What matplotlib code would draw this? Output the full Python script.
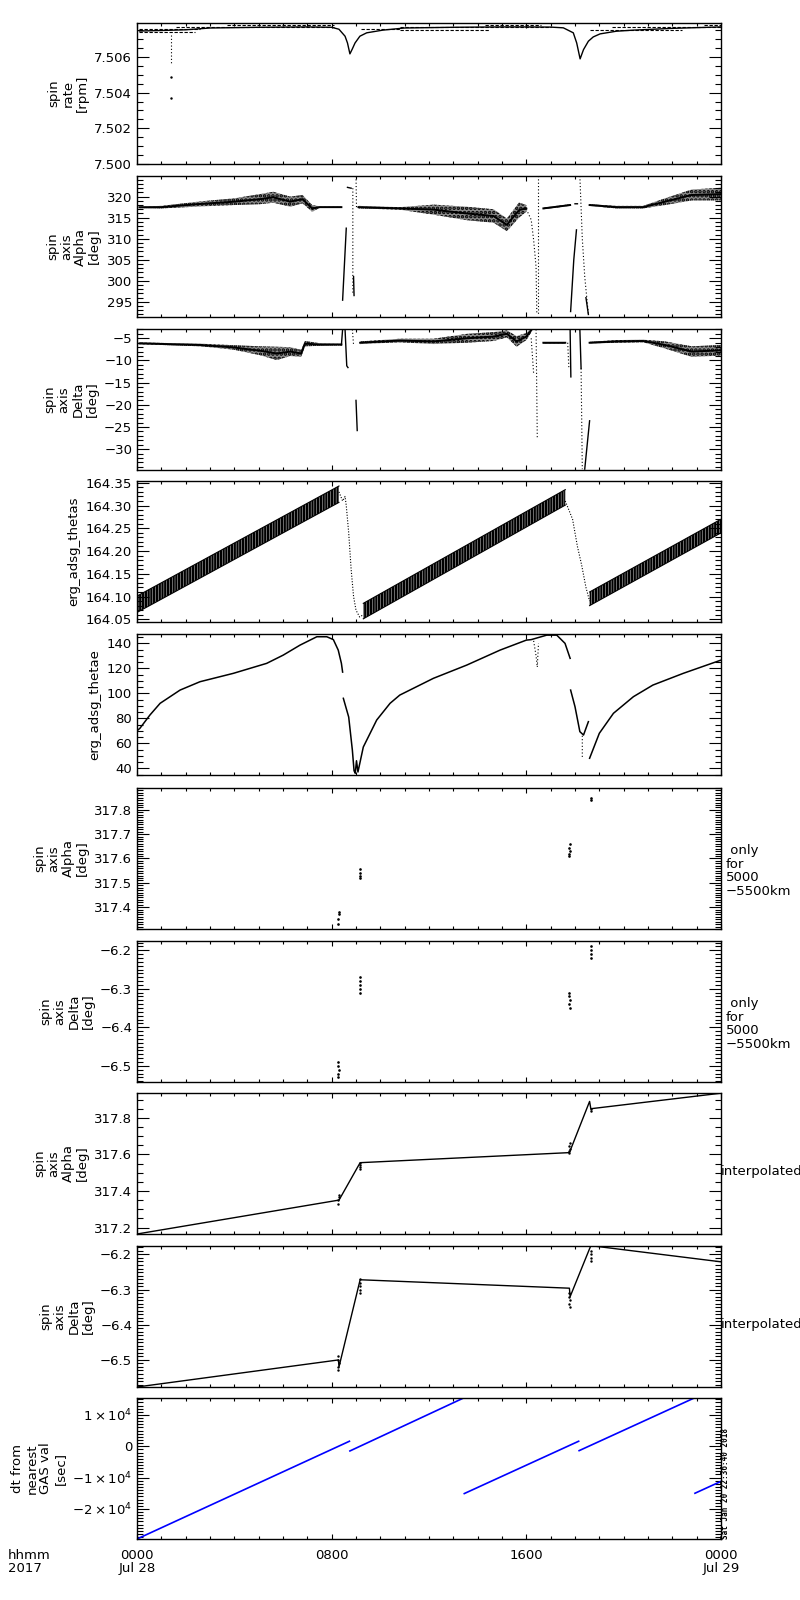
import numpy as np
import matplotlib
matplotlib.use('Agg')
import matplotlib.pyplot as plt
from matplotlib.ticker import MultipleLocator, FixedLocator, FixedFormatter, FuncFormatter

plt.rcParams['font.family'] = ['DejaVu Sans']
plt.rcParams['hatch.linewidth'] = 1.7
nan = np.nan

# time axis is in hours since 2017-07-28 00:00

# --- spin rate [rpm]
rate_t = [0.1, 1.0, 2.0, 3.0, 5.0, 7.0, 8.0, 8.3, 8.55, 8.65, 8.75, 8.85, 8.96, 9.16, 9.44, 10.1, 11, 13, 15, 16, 17,
          17.52, 17.93, 18.07, 18.21, 18.35, 18.55, 18.75, 19.03, 19.7, 20.4, 22, 24]
rate_v = [7.50745, 7.50748, 7.50752, 7.50762, 7.50766, 7.50768, 7.50766, 7.50755, 7.50716, 7.50678, 7.50617, 7.50645,
          7.50678, 7.50716, 7.50735, 7.5075, 7.50762, 7.50766, 7.50768, 7.50768, 7.50767,
          7.50763, 7.50735, 7.50678, 7.50589, 7.50641, 7.50688, 7.50712, 7.50729, 7.50744, 7.5075, 7.5076, 7.50768]
rate_lvl_start = [3.7, 1.6, 0.1, 0.1, 9.2, 10.8, 14.3, 18.6, 23.3, 10.8, 19.5]
rate_lvl_end = [8.1, 8.1, 2.6, 2.4, 10.8, 14.5, 16.6, 22.4, 24.0, 17.0, 24.0]
rate_lvl_v = [7.50779, 7.50767, 7.50756, 7.50738, 7.50756, 7.5075, 7.50779, 7.5075, 7.50779, 7.50768, 7.50768]
rate_drop_t = [1.4, 1.4]
rate_drop_v = [7.5072, 7.5056]
rate_spot_t = [1.4, 1.4]
rate_spot_v = [7.5049, 7.5037]

# --- spin axis alpha [deg]
alpha_t = [0.1, 1.0, 2.6, 4.0, 5.05, 5.6, 6.3, 6.8, 7.2, 7.5, 8.4, nan, 9.1, 10.8, 12.2, 13.55, 14.65, 15.2, 15.7, 16.0,
           nan, 16.7, 17.8, nan, 18.6, 19.7, 20.8, 21.7, 22.8, 24]
alpha_v = [317.47, 317.5, 318.26, 318.8, 319.4, 319.85, 318.8, 319.4, 317.2, 317.5, 317.5, nan, 317.5, 317.2, 316.9,
           316.0, 315.4, 313.3, 316.8, 317.2, nan, 317.2, 318.0, nan, 318.0, 317.5, 317.5, 318.8, 320.4, 320.6]
alpha_n = [0.2, 0.3, 0.6, 0.8, 1.2, 1.3, 1.2, 1.0, 0.8, 0.2, 0.2, nan, 0.3, 0.3, 1.2, 1.6, 1.6, 1.5, 1.8, 0.8,
           nan, 0.2, 0.2, nan, 0.2, 0.3, 0.3, 0.8, 1.3, 1.5]
alpha_ev_t = [8.45, 8.6, nan, 8.65, 8.8, nan, 8.9, 8.92, nan, 17.82, 17.95, 18.06, nan, 18.0, 18.1, nan, 18.45, 18.55]
alpha_ev_v = [295.4, 312.5, nan, 322.2, 322.0, nan, 301, 296.5, nan, 292.7, 305, 312.1, nan, 318.3, 318.3, nan, 296, 292]
alpha_dot_t = [8.87, 8.87, nan, 9.0, 9.02, nan, 16.0, 16.2, 16.3, 16.4, 16.43, nan, 16.5, 16.5, nan,
               18.2, 18.3, 18.4, 18.55]
alpha_dot_v = [322, 297, nan, 324.9, 317.5, nan, 317, 314.5, 309.7, 303.3, 292.2, nan, 324.9, 292, nan,
               324.9, 310, 301, 292]

# --- spin axis delta [deg]
delta_t = [0.1, 2.6, 3.96, 5.05, 5.74, 6.3, 6.75, 6.9, 7.5, 8.4, nan, 9.17, 10.8, 12.18, 13.55, 14.65, 15.2, 15.6, 16.0,
           16.2, nan, 16.7, 17.6, nan, 18.6, 19.7, 20.8, 21.7, 22.8, 24]
delta_v = [-6.14, -6.5, -7.05, -7.8, -8.4, -8.0, -8.4, -6.2, -6.4, -6.4, nan, -6.0, -5.5, -5.7, -5.0, -4.6, -4.0, -5.7,
           -4.6, -3.2, nan, -6.0, -6.0, nan, -6.0, -5.7, -5.6, -6.5, -8.0, -7.7]
delta_n = [0.2, 0.3, 0.5, 1.0, 1.5, 1.0, 0.8, 0.6, 0.3, 0.2, nan, 0.3, 0.4, 0.6, 1.0, 1.0, 0.8, 1.2, 0.8, 0.5, nan,
           0.2, 0.2, nan, 0.2, 0.3, 0.3, 0.8, 1.2, 1.2]
delta_ev_t = [8.4, 8.45, nan, 8.55, 8.62, 8.67, nan, 9.0, 9.05, nan, 17.8, 17.83, nan, 18.2, 18.25, nan, 18.4, 18.6]
delta_ev_v = [-6.5, -3.0, nan, -3.0, -11.2, -11.6, nan, -19.0, -25.8, nan, -3.2, -13.7, nan, -3.0, -11.8, nan,
              -34.5, -23.6]
delta_dot_t = [8.85, 8.9, nan, 16.4, 16.45, nan, 16.2, 16.3, nan, 18.25, 18.3, nan, 17.7, 17.75]
delta_dot_v = [-3.0, -6.5, nan, -3.0, -27.7, nan, -5.0, -13.0, nan, -11.8, -34.5, nan, -6.0, -12.0]

# --- erg_adsg_thetas
thetas_band_t = [0, 8.3, nan, 9.3, 17.6, nan, 18.6, 24]
thetas_band_lo = [164.065, 164.307, nan, 164.051, 164.301, nan, 164.080, 164.240]
thetas_band_hi = [164.101, 164.343, nan, 164.085, 164.335, nan, 164.110, 164.270]
thetas_drop_t = [8.3, 8.45, 8.55, 8.6, 8.7, 8.8, 8.9, 9.0, 9.15, 9.3, nan,
                 17.6, 17.75, 17.9, 18.1, 18.27, 18.45, 18.6]
thetas_drop_v = [164.33, 164.31, 164.32, 164.30, 164.24, 164.16, 164.10, 164.07, 164.055, 164.06, nan,
                 164.31, 164.29, 164.27, 164.21, 164.17, 164.12, 164.09]

# --- erg_adsg_thetae
thetae_t = [0.0, 0.12, 0.53, 0.95, 1.77, 2.59, 3.96, 5.33, 6.01, 6.70, 7.39, 7.80, 8.07, 8.27, 8.4, 8.45, nan,
            8.48, 8.7, 8.85, 8.92, 8.97, 9.02, 9.08, 9.3, 9.85, 10.4, 10.8, 12.18, 13.55, 14.92, 16.0, 16.2, 16.84,
            17.25, 17.59, 17.8, nan, 17.82, 18.0, 18.2, 18.35, 18.55, nan, 18.6, 19.0, 19.58, 20.4, 21.2, 22.45, 24]
thetae_v = [70, 72, 82.6, 92, 102.6, 109.3, 116, 124, 130.6, 138.6, 145.3, 145.3, 143, 134.6, 124, 117, nan,
            96, 81, 54.6, 38, 36, 46, 37, 57, 78.6, 92, 98.6, 112, 122.6, 134.6, 142.6, 143, 146.6,
            146.6, 140, 128, nan, 102.6, 89.3, 69.3, 66.6, 77.3, nan, 48, 68, 84, 97.3, 106.6, 116, 126.6]
thetae_dot_t = [16.3, 16.4, 16.45, 16.5, nan, 18.3, 18.3]
thetae_dot_v = [142, 130, 121, 140, nan, 66, 48]

# --- alpha / delta only for 5000-5500km
alpha_sel_t = [8.28, 8.28, 8.30, 8.29, 9.17, 9.17, 9.17, 9.18, 17.77, 17.77, 17.78, 17.77, 17.78, 18.65, 18.66]
alpha_sel_v = [317.33, 317.35, 317.37, 317.38, 317.52, 317.53, 317.54, 317.555, 317.61, 317.62, 317.63, 317.645,
               317.66, 317.84, 317.85]
delta_sel_t = [8.28, 8.28, 8.29, 8.28, 8.28, 9.17, 9.17, 9.18, 9.17, 9.17, 17.77, 17.77, 17.78, 17.77, 17.78,
               18.65, 18.66, 18.65, 18.65]
delta_sel_v = [-6.49, -6.50, -6.51, -6.52, -6.53, -6.27, -6.28, -6.29, -6.30, -6.31, -6.31, -6.32, -6.33, -6.34,
               -6.35, -6.19, -6.20, -6.21, -6.22]

# --- interpolated alpha / delta
alpha_int_t = [0, 8.28, 8.30, 9.17, 17.77, 17.80, 18.60, 18.65, 24]
alpha_int_v = [317.165, 317.35, 317.35, 317.555, 317.61, 317.62, 317.89, 317.85, 317.935]
delta_int_t = [0, 8.28, 8.30, 9.17, 17.77, 17.80, 18.65, 24]
delta_int_v = [-6.577, -6.50, -6.52, -6.272, -6.296, -6.32, -6.175, -6.221]

# --- dt from nearest GAS val [sec]
dt_t = [0, 8.73, nan, 8.75, 13.42, nan, 13.45, 18.15, nan, 18.17, 22.9, nan, 22.93, 24]
dt_v = [-29600, 1600, nan, -1500, 15400, nan, -15100, 1600, nan, -1400, 15400, nan, -15000, -11200]

ylabels = ['spin\nrate\n[rpm]', 'spin\naxis\nAlpha\n[deg]', 'spin\naxis\nDelta\n[deg]', 'erg_adsg_thetas',
           'erg_adsg_thetae', 'spin\naxis\nAlpha\n[deg]', 'spin\naxis\nDelta\n[deg]', 'spin\naxis\nAlpha\n[deg]',
           'spin\naxis\nDelta\n[deg]', 'dt from\nnearest\nGAS val\n[sec]']


def fmt(digits):
    return FuncFormatter(lambda x, p: ('%.*f' % (digits, x)).replace('-', '\u2212'))


def style(ax, ylim, major, minor, digits):
    ax.set_xlim(0, 24)
    ax.set_ylim(*ylim)
    ax.xaxis.set_major_locator(MultipleLocator(8))
    ax.xaxis.set_minor_locator(MultipleLocator(1))
    ax.yaxis.set_major_locator(MultipleLocator(major))
    ax.yaxis.set_minor_locator(MultipleLocator(minor))
    ax.yaxis.set_major_formatter(fmt(digits))
    ax.tick_params(which='both', direction='in', top=True, right=True, labelsize=9.5, pad=3.5, width=0.8)
    ax.tick_params(axis='y', which='major', length=8.5)
    ax.tick_params(axis='y', which='minor', length=4.5)
    ax.tick_params(axis='x', which='major', length=3.5)
    ax.tick_params(axis='x', which='minor', length=2)
    ax.tick_params(axis='x', labelbottom=False)
    for s in ax.spines.values():
        s.set_linewidth(1.0)


fig = plt.figure(figsize=(8, 16), dpi=100)
panel_tops = [23, 176, 329, 481, 634, 788, 941, 1093, 1246, 1398]
axs = [fig.add_axes([137 / 800, 1 - (top + 141) / 1600, 584 / 800, 141 / 1600]) for top in panel_tops]

# 1 spin rate
ax = axs[0]
for s, e, v in zip(rate_lvl_start, rate_lvl_end, rate_lvl_v):
    ax.plot([s, e], [v, v], color='k', lw=0.8, ls=(0, (3, 1.5)))
ax.plot(rate_t, rate_v, color='k', lw=1.0)
ax.plot(rate_drop_t, rate_drop_v, color='k', lw=0.8, ls=(0, (1, 2)))
ax.plot(rate_spot_t, rate_spot_v, 'k.', ms=1.5)
style(ax, (7.500, 7.5079), 0.002, 0.0005, 3)

# 2 alpha
ax = axs[1]
a_lo = np.array(alpha_v) - np.array(alpha_n)
a_hi = np.array(alpha_v) + np.array(alpha_n)
ax.fill_between(alpha_t, a_lo, a_hi, facecolor='0.55', edgecolor='k', hatch='....', lw=0)
ax.plot(alpha_t, alpha_v, color='k', lw=1.4)
ax.plot(alpha_ev_t, alpha_ev_v, color='k', lw=1.0)
ax.plot(alpha_dot_t, alpha_dot_v, color='k', lw=0.8, ls=(0, (1, 2)))
style(ax, (291.4, 324.9), 5, 1, 0)

# 3 delta
ax = axs[2]
d_lo = np.array(delta_v) - np.array(delta_n)
d_hi = np.array(delta_v) + np.array(delta_n)
ax.fill_between(delta_t, d_lo, d_hi, facecolor='0.55', edgecolor='k', hatch='....', lw=0)
ax.plot(delta_t, delta_v, color='k', lw=1.4)
ax.plot(delta_ev_t, delta_ev_v, color='k', lw=1.0)
ax.plot(delta_dot_t, delta_dot_v, color='k', lw=0.8, ls=(0, (1, 2)))
style(ax, (-34.7, -2.9), 5, 1, 0)

# 4 thetas
ax = axs[3]
ax.fill_between(thetas_band_t, thetas_band_lo, thetas_band_hi, facecolor='none', edgecolor='k',
                hatch='|' * 6, lw=0)
ax.plot(thetas_band_t, thetas_band_lo, color='k', lw=0.8)
ax.plot(thetas_band_t, thetas_band_hi, color='k', lw=0.8)
ax.plot(thetas_drop_t, thetas_drop_v, color='k', lw=0.8, ls=(0, (1, 1.5)))
style(ax, (164.044, 164.354), 0.05, 0.01, 2)

# 5 thetae
ax = axs[4]
ax.plot(thetae_t, thetae_v, color='k', lw=1.1)
ax.plot(thetae_dot_t, thetae_dot_v, color='k', lw=0.8, ls=(0, (1, 2)))
style(ax, (34.6, 147.5), 20, 5, 0)

# 6, 7 only for 5000-5500km
ax = axs[5]
ax.plot(alpha_sel_t, alpha_sel_v, 'k.', ms=1.8)
style(ax, (317.31, 317.89), 0.1, 0.01, 1)
ax = axs[6]
ax.plot(delta_sel_t, delta_sel_v, 'k.', ms=1.8)
style(ax, (-6.542, -6.176), 0.1, 0.01, 1)
for ax in axs[5:7]:
    ax.text(1.008, 0.41, ' only\nfor\n5000\n\u22125500km', transform=ax.transAxes, fontsize=9.5,
            ha='left', va='center', linespacing=1.05)

# 8, 9 interpolated
ax = axs[7]
ax.plot(alpha_int_t, alpha_int_v, color='k', lw=1.0)
ax.plot(alpha_sel_t, alpha_sel_v, 'k.', ms=1.5)
style(ax, (317.165, 317.936), 0.2, 0.05, 1)
ax = axs[8]
ax.plot(delta_int_t, delta_int_v, color='k', lw=1.0)
ax.plot(delta_sel_t, delta_sel_v, 'k.', ms=1.5)
style(ax, (-6.577, -6.176), 0.1, 0.01, 1)
for ax in axs[7:9]:
    ax.text(1.0, 0.44, 'interpolated', transform=ax.transAxes, fontsize=9.5, ha='left', va='center')

# 10 dt
ax = axs[9]
ax.plot(dt_t, dt_v, color='#0000ff', lw=1.2)
style(ax, (-29600, 15400), 10000, 1000, 0)
ax.yaxis.set_major_locator(FixedLocator([-20000, -10000, 0, 10000]))
ax.yaxis.set_major_formatter(FixedFormatter([r'$-2\times10^4$', r'$-1\times10^4$', '0', r'$1\times10^4$']))
ax.set_xticks([0, 8, 16, 24])
ax.set_xticklabels(['0000\nJul 28', '0800', '1600', '0000\nJul 29'])
ax.tick_params(axis='x', labelbottom=True, pad=7)
for lbl in ax.get_xticklabels():
    lbl.set_linespacing(1.05)
    lbl.set_verticalalignment('top')
ax.text(1.0, 0.0, 'Sat Jan 20 22:36:40 2018', transform=ax.transAxes, rotation=90, fontsize=5.5,
        family='DejaVu Sans Mono', fontweight='bold', ha='left', va='bottom')

for ax, lab in zip(axs, ylabels):
    ax.set_ylabel(lab, fontsize=9.5, linespacing=1.1, labelpad=4)

fig.text(8 / 800, 1 - 1549 / 1600, 'hhmm\n2017', fontsize=9.5, ha='left', va='top', linespacing=1.05)

fig.savefig('out.png', dpi=100)
